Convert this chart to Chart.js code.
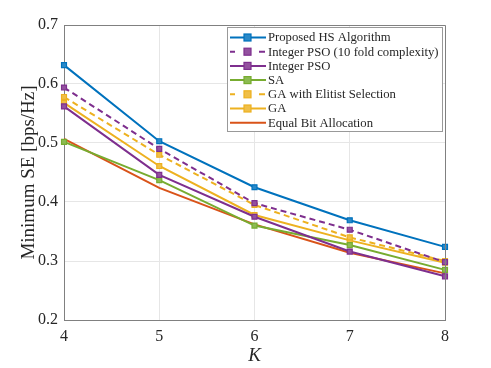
<!DOCTYPE html>
<html><head><meta charset="utf-8">
<script src="https://cdn.jsdelivr.net/npm/chart.js@4"></script>
<style>html,body{margin:0;padding:0;background:#fff}#wrap{width:491px;height:368px}</style>
</head><body><div id="wrap"><canvas id="c" width="491" height="368"></canvas></div>
<script>
const categories = ['4','5','6','7','8'];
const yTicks = [0.2,0.3,0.4,0.5,0.6,0.7];
const hsValues     = [0.632,0.503,0.425,0.369,0.324];
const pso10Values  = [0.594,0.490,0.398,0.353,0.298];
const psoValues    = [0.562,0.446,0.375,0.316,0.274];
const saValues     = [0.502,0.437,0.360,0.327,0.285];
const gaElValues   = [0.578,0.480,0.395,0.340,0.300];
const gaValues     = [0.568,0.461,0.378,0.335,0.297];
const eqValues     = [0.507,0.424,0.362,0.314,0.279];

const SERIF = '"Liberation Serif","DejaVu Serif",serif';
function ds(label, data, color, fillc, dashed, marker){
  return {label, data, borderColor: color, backgroundColor: fillc,
    borderWidth: 2, borderDash: dashed ? [6,4] : [],
    pointStyle: 'rect', pointRadius: marker ? 3.5 : 0, pointHoverRadius: 0,
    pointBorderColor: color, pointBackgroundColor: fillc, pointBorderWidth: 1.2,
    tension: 0, fill: false, _dashed: dashed, _marker: marker};
}
const datasets = [
  ds('Proposed HS Algorithm', hsValues, '#0072BD', '#2a89c8', false, true),
  ds('Integer PSO (10 fold complexity)', pso10Values, '#7E2F8E', '#93519f', true, true),
  ds('Integer PSO', psoValues, '#7E2F8E', '#93519f', false, true),
  ds('SA', saValues, '#77AC30', '#8cbb52', false, true),
  ds('GA with Elitist Selection', gaElValues, '#EDB120', '#f0bf48', true, true),
  ds('GA', gaValues, '#EDB120', '#f0bf48', false, true),
  ds('Equal Bit Allocation', eqValues, '#D95319', '#D95319', false, false)
];
const legendPlugin = {
  id: 'insideLegend',
  afterDraw(chart){
    const ctx = chart.ctx, a = chart.chartArea;
    ctx.save();
    ctx.strokeStyle = '#808080'; ctx.lineWidth = 1;
    ctx.beginPath();
    ctx.moveTo(a.left+0.5, a.top+0.5); ctx.lineTo(a.right+0.5, a.top+0.5); ctx.lineTo(a.right+0.5, a.bottom+0.5);
    ctx.stroke();
    const x0 = 227, y0 = 27, w = 215, h = 104;
    ctx.fillStyle = '#fff'; ctx.fillRect(x0, y0, w, h);
    ctx.strokeStyle = '#999'; ctx.strokeRect(x0+0.5, y0+0.5, w, h);
    ctx.font = '12.7px ' + SERIF; ctx.textBaseline = 'middle'; ctx.textAlign = 'left';
    chart.data.datasets.forEach((d, i) => {
      const y = y0 + 10.5 + i * 14.2;
      ctx.strokeStyle = d.borderColor; ctx.lineWidth = 2;
      ctx.beginPath();
      if (d._dashed){
        ctx.moveTo(x0+3, y); ctx.lineTo(x0+8, y);
        ctx.moveTo(x0+32, y); ctx.lineTo(x0+38, y);
      } else { ctx.moveTo(x0+3, y); ctx.lineTo(x0+39, y); }
      ctx.stroke();
      if (d._marker){
        ctx.fillStyle = d.backgroundColor; ctx.fillRect(x0+17, y-3.5, 7, 7);
        ctx.lineWidth = 1.2; ctx.strokeStyle = d.borderColor; ctx.strokeRect(x0+17, y-3.5, 7, 7);
      }
      ctx.fillStyle = '#262626'; ctx.fillText(d.label, x0+41, y+0.5);
    });
    ctx.restore();
  }
};
new Chart(document.getElementById('c'), {
  type: 'line',
  data: { labels: categories, datasets },
  options: {
    responsive: false, animation: false,
    layout: { padding: { top: 25, right: 46, left: 14, bottom: 0 } },
    plugins: { legend: { display: false }, tooltip: { enabled: false } },
    scales: {
      x: { type: 'category', offset: false,
        grid: { color: '#e6e6e6', drawTicks: false, lineWidth: 1 },
        border: { color: '#808080' },
        ticks: { color: '#262626', font: { family: SERIF, size: 16 }, padding: 7, maxRotation: 0 },
        title: { display: true, text: 'K', color: '#262626', font: { family: SERIF, size: 19, style: 'italic' }, padding: { top: 2, bottom: 1 } },
        afterFit(s){ s.height = 48; }
      },
      y: { min: 0.2, max: 0.7,
        afterBuildTicks(s){ s.ticks = yTicks.map(v => ({value: v})); },
        grid: { color: '#e6e6e6', drawTicks: false },
        border: { color: '#808080' },
        ticks: { color: '#262626', font: { family: SERIF, size: 16 }, padding: 6, callback: v => v.toFixed(1) },
        title: { display: true, text: 'Minimum SE [bps/Hz]', color: '#262626', font: { family: SERIF, size: 19 }, padding: { bottom: 0 } },
        afterFit(s){ s.width = 50; }
      }
    }
  },
  plugins: [legendPlugin]
});
</script></body></html>
